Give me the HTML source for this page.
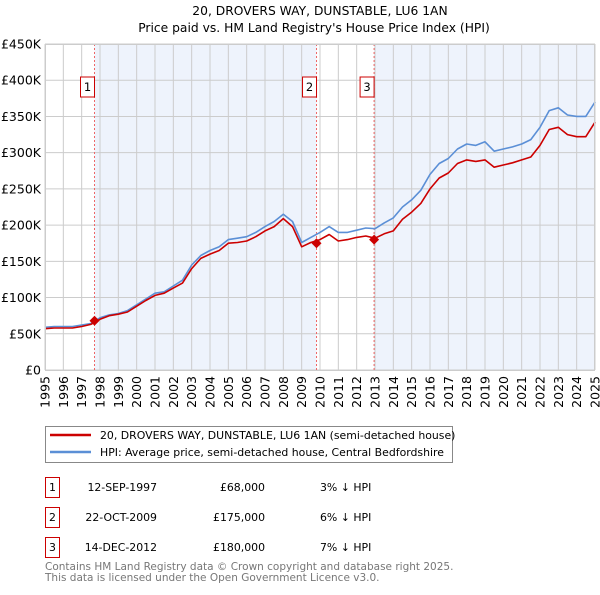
<!DOCTYPE html>
<html><head><meta charset="utf-8"><style>
body{margin:0;background:#fff;font-family:"Liberation Sans","DejaVu Sans",sans-serif;}
svg text{font-family:"DejaVu Sans","Liberation Sans",sans-serif;}
</style></head><body>
<svg id="c" width="600" height="590" xmlns="http://www.w3.org/2000/svg">
<text x="320" y="15" text-anchor="middle" font-size="12.3" fill="#000">20, DROVERS WAY, DUNSTABLE, LU6 1AN</text>
<text x="314" y="32" text-anchor="middle" font-size="12.3" fill="#000">Price paid vs. HM Land Registry's House Price Index (HPI)</text>
<g id="plot"></g>
<g>
<rect x="45.5" y="426.5" width="407" height="36" fill="#fff" stroke="#888"/>
<line x1="50" y1="435" x2="91" y2="435" stroke="#cc0000" stroke-width="2.5"/>
<text x="100" y="439" font-size="10.9">20, DROVERS WAY, DUNSTABLE, LU6 1AN (semi-detached house)</text>
<line x1="50" y1="452" x2="91" y2="452" stroke="#5b8fd6" stroke-width="2.5"/>
<text x="100" y="456" font-size="10.9">HPI: Average price, semi-detached house, Central Bedfordshire</text>
</g>
<g font-size="10.9">
<rect x="45.5" y="477.5" width="14" height="20" fill="#fff" stroke="#cc0000"/><text x="52.5" y="491" text-anchor="middle">1</text>
<text x="157" y="491" text-anchor="end">12-SEP-1997</text><text x="265" y="491" text-anchor="end">£68,000</text><text x="320" y="491">3% ↓ HPI</text>
<rect x="45.5" y="507.5" width="14" height="20" fill="#fff" stroke="#cc0000"/><text x="52.5" y="521" text-anchor="middle">2</text>
<text x="157" y="521" text-anchor="end">22-OCT-2009</text><text x="265" y="521" text-anchor="end">£175,000</text><text x="320" y="521">6% ↓ HPI</text>
<rect x="45.5" y="537.5" width="14" height="20" fill="#fff" stroke="#cc0000"/><text x="52.5" y="551" text-anchor="middle">3</text>
<text x="157" y="551" text-anchor="end">14-DEC-2012</text><text x="265" y="551" text-anchor="end">£180,000</text><text x="320" y="551">7% ↓ HPI</text>
</g>
<text x="45" y="570" font-size="10.5" fill="#777">Contains HM Land Registry data © Crown copyright and database right 2025.</text>
<text x="45" y="581" font-size="10.5" fill="#777">This data is licensed under the Open Government Licence v3.0.</text>
</svg>
<script>
const startYear = 1995;
const stepYears = 0.5;
const hpiValues = [59,60,60,60,62,64,72,76,78,82,90,98,106,108,116,124,145,158,165,170,180,182,184,190,198,205,215,205,176,183,190,198,190,190,193,196,195,203,210,225,235,248,270,285,292,305,312,310,315,302,305,308,312,318,335,358,362,352,350,350,370];
const priceValues = [57,58,58,58,60,63,70,75,77,80,88,96,103,106,113,120,140,154,160,165,175,176,178,184,192,198,209,198,170,176,180,187,178,180,183,185,182,188,192,208,218,230,250,265,272,285,290,288,290,280,283,286,290,294,310,332,335,325,322,322,342];
const saleYears = [1997.7, 2009.81, 2012.95];
const salePrices = [68, 175, 180];
const saleLabels = ["1","2","3"];
const yTicks = [0,50,100,150,200,250,300,350,400,450];
const yTickLabels = ["£0","£50K","£100K","£150K","£200K","£250K","£300K","£350K","£400K","£450K"];
const xTicks = [];
for (let y = 1995; y <= 2025; y++) xTicks.push(y);

const L=45,R=595,T=44,B=370;
const xs = y => L + (y-1995)/(2025-1995)*(R-L);
const ys = v => B - v/450*(B-T);
const NS="http://www.w3.org/2000/svg";
const g=document.getElementById('plot');
function mk(tag,attrs,parent){const e=document.createElementNS(NS,tag);for(const k in attrs)e.setAttribute(k,attrs[k]);(parent||g).appendChild(e);return e;}

let r=mk('rect',{x:xs(saleYears[0]),y:T,width:xs(saleYears[1])-xs(saleYears[0]),height:B-T,fill:'#eef3fc'});


r=mk('rect',{x:xs(saleYears[2]),y:T,width:R-xs(saleYears[2]),height:B-T,fill:'#eef3fc'});



xTicks.forEach(y=>{
  const l=mk('line',{x1:xs(y),x2:xs(y),y1:T,y2:B,stroke:'#cccccc','stroke-width':1});
  
  
  const t=mk('text',{x:0,y:0,'font-size':12.5,'text-anchor':'end',transform:`translate(${xs(y)+4.5},${B+6}) rotate(-90)`});
  t.textContent=y;
  
  
});
yTicks.forEach((v,i)=>{
  const l=mk('line',{x1:L,x2:R,y1:ys(v),y2:ys(v),stroke:'#cccccc','stroke-width':1});
  
  
  const t=mk('text',{x:L-4,y:ys(v)+4.5,'font-size':12.5,'text-anchor':'end'});
  t.textContent=yTickLabels[i];
  
  
});

saleYears.forEach((sy,i)=>{
  const l=mk('line',{x1:xs(sy),x2:xs(sy),y1:T,y2:B,stroke:'#ee6666','stroke-width':1,'stroke-dasharray':'2,2'});
  
  
  const b=mk('rect',{x:xs(sy)-14,y:77,width:14,height:20,fill:'#fff',stroke:'#cc0000'});
  
  
  const t=mk('text',{x:xs(sy)-7,y:91,'font-size':11.5,'text-anchor':'middle'});
  t.textContent=saleLabels[i];
  
  
});

function line(vals,color,name){
  const d=vals.map((v,i)=>(i?'L':'M')+xs(startYear+i*stepYears).toFixed(1)+','+ys(v).toFixed(1)).join('');
  const p=mk('path',{d:d,fill:'none',stroke:color,'stroke-width':1.6,'stroke-linejoin':'round'});
  
  
}
line(hpiValues,'#5b8fd6','hpi-line');
line(priceValues,'#cc0000','price-line');

saleYears.forEach((sy,i)=>{
  const cx=xs(sy),cy=ys(salePrices[i]);
  const p=mk('path',{d:`M${cx},${cy-5}L${cx+5},${cy}L${cx},${cy+5}L${cx-5},${cy}Z`,fill:'#cc0000'});
  
  
});

const ax=mk('rect',{x:L+0.5,y:T+0.5,width:R-L-1,height:B-T,fill:'none',stroke:'#cccccc'});


</script>
</body></html>
